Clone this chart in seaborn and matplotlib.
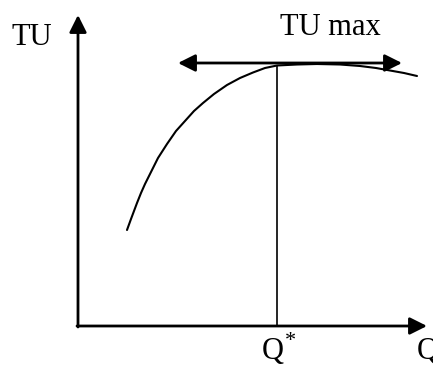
import matplotlib
matplotlib.use("Agg")
import matplotlib.pyplot as plt
import seaborn as sns

# curve (pixel-like units, y grows downward)
q_vals = [127, 131, 137, 141, 145, 152, 158, 167, 176, 185, 194, 203, 214, 227,
          240, 253, 265, 277, 297, 317, 340, 360, 376, 390, 404, 417]
tu_vals = [230, 219, 203, 193, 184, 170, 158, 144, 131, 121, 111, 103, 94, 85,
           78, 72.5, 68, 65.5, 64.5, 64, 64.5, 66, 68, 70.5, 73, 76]

q_star = 277
tu_max = 63
origin = (78, 326)

sns.set_style("white")
plt.rcParams['font.family'] = ['Liberation Serif', 'DejaVu Serif']
plt.rcParams['text.color'] = 'black'

fig = plt.figure(figsize=(4.33, 3.65), dpi=100)
ax = fig.add_axes([0, 0, 1, 1])
ax.set_xlim(0, 433)
ax.set_ylim(365, 0)
ax.axis('off')

sns.lineplot(x=q_vals, y=tu_vals, sort=False, color='black', lw=1.5, ax=ax)

# axes with arrow heads
arrow = dict(arrowstyle='-|>', mutation_scale=26, lw=2.0, color='black',
             shrinkA=0, shrinkB=0)
ax.annotate('', xy=(origin[0], 15), xytext=(origin[0], origin[1] + 1), arrowprops=arrow)
ax.annotate('', xy=(427, origin[1]), xytext=(origin[0] - 1, origin[1]), arrowprops=arrow)

# TU max double arrow
ax.annotate('', xy=(402, tu_max), xytext=(178, tu_max),
            arrowprops=dict(arrowstyle='<|-|>', mutation_scale=26, lw=2.0,
                            color='black', shrinkA=0, shrinkB=0))

# Q* vertical line
ax.plot([q_star, q_star], [tu_vals[q_vals.index(q_star)], origin[1]], color='black', lw=1.2)

ax.text(12, 45, 'TU', fontsize=22, va='baseline', ha='left', color='black')
ax.text(280, 35, 'TU max', fontsize=22, va='baseline', ha='left', color='black')
ax.text(262, 359, 'Q', fontsize=22, va='baseline', ha='left', color='black')
ax.text(285, 346, '*', fontsize=16, va='baseline', ha='left', color='black')
ax.text(417, 359, 'Q', fontsize=22, va='baseline', ha='left', color='black')

fig.savefig('out.png', dpi=100)
